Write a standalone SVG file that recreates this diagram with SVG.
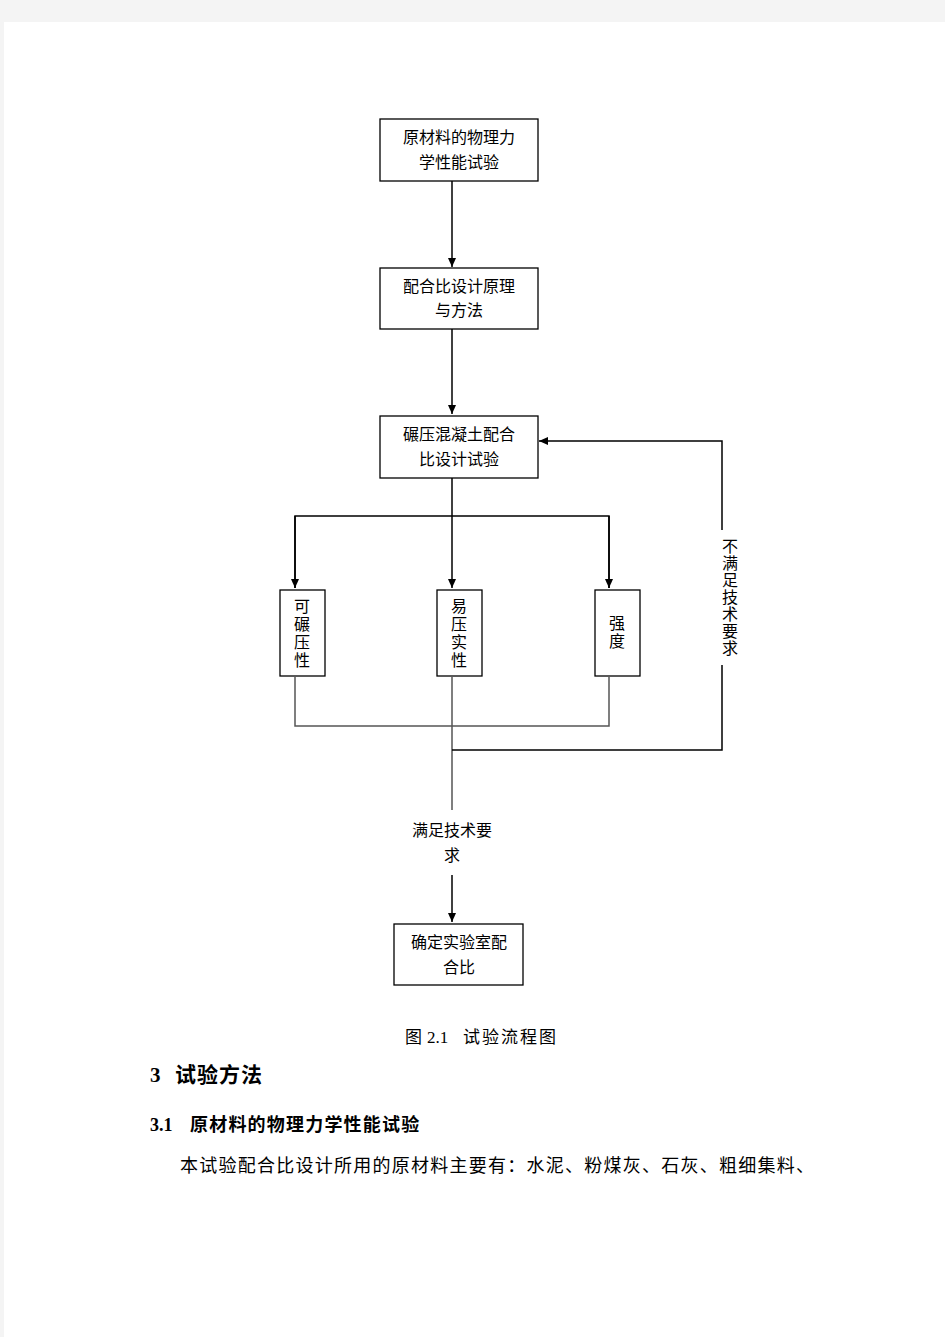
<svg xmlns="http://www.w3.org/2000/svg" width="945" height="1337" viewBox="0 0 945 1337">
<defs>
<marker id="arr" markerWidth="10" markerHeight="10" refX="9" refY="5" orient="auto" markerUnits="userSpaceOnUse">
<path d="M0,1 L9,5 L0,9 Z" fill="#000"/>
</marker>
<style>
.box{fill:#fff;stroke:#000;stroke-width:1.3}
.t{font-family:"Noto Sans CJK SC","Noto Sans",sans-serif;font-size:16px;fill:#000;text-anchor:middle}
.v{font-family:"Noto Sans CJK SC","Noto Sans",sans-serif;font-size:16px;fill:#000;writing-mode:vertical-rl;text-orientation:upright}
.ln{fill:none;stroke:#000;stroke-width:1.5}
.gl{fill:none;stroke:#555;stroke-width:1.5}
.serif{font-family:"Liberation Serif","Noto Sans CJK SC",serif;fill:#000}
</style>
</defs>
<rect x="0" y="0" width="945" height="1337" fill="#f4f4f4"/>
<rect x="4" y="22" width="941" height="1315" fill="#fff"/>
<g id="connectors">
<line class="ln" x1="452" y1="181" x2="452" y2="267" marker-end="url(#arr)"/>
<line class="ln" x1="452" y1="329" x2="452" y2="414" marker-end="url(#arr)"/>
<line class="ln" x1="452" y1="478" x2="452" y2="588" marker-end="url(#arr)"/>
<polyline class="ln" points="295,588 295,516 609,516 609,588"/>
<line class="ln" x1="295" y1="516" x2="295" y2="588" marker-end="url(#arr)"/>
<line class="ln" x1="609" y1="516" x2="609" y2="588" marker-end="url(#arr)"/>
<polyline class="gl" points="295,677 295,726 609,726 609,677"/>
<line class="gl" x1="452" y1="677" x2="452" y2="810"/>
<polyline class="ln" points="452,750 722,750 722,665"/>
<polyline class="ln" points="722,530 722,441 539,441" marker-end="url(#arr)"/>
<line class="ln" x1="452" y1="875" x2="452" y2="922" marker-end="url(#arr)"/>
</g>
<g id="n1"><rect class="box" x="380" y="119" width="158" height="62"/>
<text class="t" x="459" y="143">原材料的物理力</text><text class="t" x="459" y="168">学性能试验</text></g>
<g id="n2"><rect class="box" x="380" y="268" width="158" height="61"/>
<text class="t" x="459" y="292">配合比设计原理</text><text class="t" x="459" y="316">与方法</text></g>
<g id="n3"><rect class="box" x="380" y="416" width="158" height="62"/>
<text class="t" x="459" y="440">碾压混凝土配合</text><text class="t" x="459" y="465">比设计试验</text></g>
<g id="n4"><rect class="box" x="280" y="590" width="45" height="86"/>
<text class="v" x="302" y="598" letter-spacing="2">可碾压性</text></g>
<g id="n5"><rect class="box" x="437" y="590" width="45" height="86"/>
<text class="v" x="459" y="598" letter-spacing="2">易压实性</text></g>
<g id="n6"><rect class="box" x="595" y="590" width="45" height="86"/>
<text class="v" x="617" y="615" letter-spacing="2">强度</text></g>
<g id="lbl-no">
<text class="v" x="730" y="538" letter-spacing="1">不满足技术要求</text>
</g>
<g id="lbl-yes">
<text class="t" x="452" y="836">满足技术要</text><text class="t" x="452" y="861">求</text>
</g>
<g id="n7"><rect class="box" x="394" y="924" width="129" height="61"/>
<text class="t" x="459" y="948">确定实验室配</text><text class="t" x="459" y="973">合比</text></g>
<g id="caption">
<text class="serif" x="405" y="1043" font-size="17" fill="#333" letter-spacing="1">图</text>
<text class="serif" x="427" y="1043" font-size="17" fill="#333">2.1</text>
<text class="serif" x="463" y="1043" font-size="17" fill="#333" letter-spacing="2">试验流程图</text>
</g>
<g id="body">
<text class="serif" x="150" y="1082" font-size="21" font-weight="bold">3</text>
<text class="serif" x="175" y="1082" font-size="21" font-weight="bold" letter-spacing="1">试验方法</text>
<text class="serif" x="150" y="1131" font-size="18" font-weight="bold">3.1</text>
<text class="serif" x="190" y="1131" font-size="18" font-weight="bold" letter-spacing="1.2">原材料的物理力学性能试验</text>
<text class="serif" x="180" y="1172" font-size="18" letter-spacing="1.25">本试验配合比设计所用的原材料主要有：水泥、粉煤灰、石灰、粗细集料、</text>
</g>
</svg>
